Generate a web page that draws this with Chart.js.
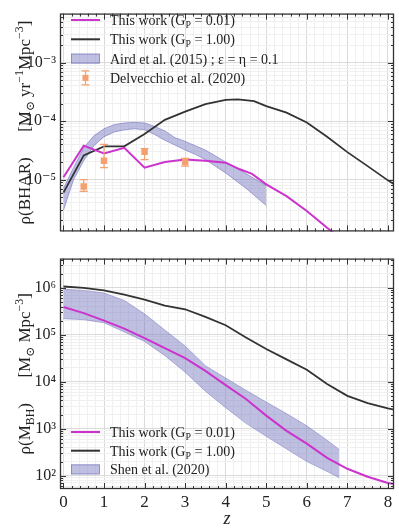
<!DOCTYPE html>
<html>
<head>
<meta charset="utf-8">
<script src="https://cdn.jsdelivr.net/npm/chart.js@4.4.1/dist/chart.umd.min.js"></script>
<style>
  body { margin: 0; background: #fff; }
  #top { position: absolute; left: 0; top: 0; }
  #bottom { position: absolute; left: 0; top: 245px; }
</style>
</head>
<body>
<canvas id="top" width="399" height="245"></canvas>
<canvas id="bottom" width="399" height="287"></canvas>
<script>
// ---- top panel: black hole accretion rate density ----
const zBharLow = [0, 0.5, 1, 1.5, 2, 2.5, 3, 3.5, 4, 4.35, 4.65, 5, 5.5, 6, 6.5, 7];
const bharLow = [1.1e-5, 3.8e-5, 2.8e-5, 3.5e-5, 1.6e-5, 2.0e-5, 2.2e-5, 2.1e-5, 1.95e-5, 1.5e-5, 1.25e-5, 8.3e-6, 5.2e-6, 2.9e-6, 1.5e-6, 8e-7];

const zBharHigh = [0, 0.5, 1, 1.5, 2, 2.5, 3, 3.5, 4, 4.3, 4.7, 5, 5.5, 6, 6.5, 7, 7.5, 8, 8.2];
const bharHigh = [6e-6, 2.6e-5, 3.7e-5, 3.7e-5, 6e-5, 1.05e-4, 1.45e-4, 1.95e-4, 2.3e-4, 2.35e-4, 2.2e-4, 1.8e-4, 1.4e-4, 9.5e-5, 5.4e-5, 2.95e-5, 1.7e-5, 9.7e-6, 7.9e-6];

const zAird = [0, 0.25, 0.5, 0.75, 1, 1.25, 1.5, 1.75, 2, 2.25, 2.5, 2.75, 3, 3.25, 3.5, 4, 4.5, 5];
const airdHi = [7.1e-6, 1.6e-5, 3.5e-5, 5.6e-5, 7.4e-5, 8.7e-5, 9.3e-5, 9.5e-5, 9.3e-5, 8.1e-5, 6.8e-5, 5.2e-5, 4.5e-5, 3.8e-5, 3.2e-5, 2.0e-5, 1.26e-5, 7.9e-6];
const airdLo = [3.0e-6, 1.0e-5, 2.1e-5, 3.8e-5, 5.4e-5, 6.5e-5, 7.1e-5, 7.4e-5, 7.1e-5, 5.9e-5, 4.7e-5, 3.9e-5, 3.2e-5, 2.7e-5, 2.2e-5, 1.3e-5, 7.1e-6, 3.6e-6];

const zDel = [0.5, 1, 2, 3];
const delVal = [7.6e-6, 2.1e-5, 3.0e-5, 2.0e-5];
const delHi = [1.0e-5, 4.0e-5, 3.4e-5, 2.3e-5];
const delLo = [6.3e-6, 1.6e-5, 2.2e-5, 1.7e-5];

// ---- bottom panel: black hole mass density ----
const zMbh = [0, 0.5, 1, 1.5, 2, 2.5, 3, 3.5, 4, 4.5, 5, 5.5, 6, 6.5, 7, 7.5, 8, 8.2];
const mbhLow = [3.9e5, 2.9e5, 2.0e5, 1.35e5, 8.5e4, 5.2e4, 3.2e4, 1.7e4, 8.5e3, 4.3e3, 1.9e3, 900, 480, 240, 140, 95, 70, 65];
const mbhHigh = [1.07e6, 1.0e6, 8.8e5, 7.2e5, 5.6e5, 4.2e5, 3.5e5, 2.4e5, 1.6e5, 8.8e4, 5.0e4, 3.0e4, 1.8e4, 9.0e3, 5.0e3, 3.5e3, 2.7e3, 2.5e3];

const zShen = [0, 0.5, 1, 1.5, 2, 2.5, 3, 3.5, 4, 4.5, 5, 5.5, 6, 6.5, 6.8];
const shenHi = [9.4e5, 8.8e5, 7.8e5, 5.4e5, 2.8e5, 1.26e5, 5.8e4, 2.2e4, 1.2e4, 6.6e3, 3.7e3, 2.1e3, 1.15e3, 570, 360];
const shenLo = [2.2e5, 2.1e5, 1.8e5, 1.15e5, 7.2e4, 3.6e4, 1.6e4, 6.3e3, 2.8e3, 1.3e3, 690, 370, 200, 123, 90];

const SERIF = '"Liberation Serif", "DejaVu Serif", serif';
const magenta = '#cc33cc';
const dark = '#333333';
const orange = '#f5a070';
const bandFill = 'rgba(112,112,190,0.45)';
const bandEdge = 'rgba(112,112,190,0.75)';
const X_MIN = -0.085, X_MAX = 8.15;

const supChars = { '-': '\u207B', '0': '\u2070', '1': '\u00B9', '2': '\u00B2', '3': '\u00B3', '4': '\u2074', '5': '\u2075', '6': '\u2076', '7': '\u2077', '8': '\u2078', '9': '\u2079' };
function supStr(n) { return String(n).split('').map(c => supChars[c]).join(''); }

function pts(xs, ys) { return xs.map((x, i) => ({ x: x, y: ys[i] })); }

function lineSet(xs, ys, color, width) {
  return { data: pts(xs, ys), borderColor: color, backgroundColor: color, borderWidth: width, pointRadius: 0, tension: 0, fill: false };
}

function xTickList() {
  const t = [];
  for (let i = 0; i <= 41; i++) {
    const v = Math.round(i * 2) / 10;
    if (v <= X_MAX) t.push({ value: v, major: Number.isInteger(v) });
  }
  return t;
}

function logTickList(min, max) {
  const t = [];
  for (let e = Math.floor(Math.log10(min)); e <= Math.ceil(Math.log10(max)); e++) {
    for (let k = 1; k <= 9; k++) {
      const v = k * Math.pow(10, e);
      if (v >= min && v <= max) t.push({ value: v, major: k === 1 });
    }
  }
  return t;
}

function gridColor(c) { return c.tick && c.tick.major ? '#dadada' : '#f0f0f0'; }

function makeScales(yMin, yMax, showX) {
  return {
    x: {
      type: 'linear', min: X_MIN, max: X_MAX,
      afterBuildTicks: s => { s.ticks = xTickList(); },
      afterFit: s => { s.height = showX ? 43 : 0; },
      border: { display: false },
      grid: { color: gridColor, drawTicks: false },
      ticks: {
        display: showX, autoSkip: false, maxRotation: 0, padding: 3, color: '#222',
        font: { family: SERIF, size: 17 },
        callback: v => Math.abs(v - Math.round(v)) < 1e-6 ? String(Math.round(v)) : ''
      },
      title: { display: showX, text: 'z', color: '#222', font: { family: SERIF, size: 18, style: 'italic' }, padding: { top: 0, bottom: 2 } }
    },
    y: {
      type: 'logarithmic', min: yMin, max: yMax,
      afterBuildTicks: s => { s.ticks = logTickList(yMin, yMax); },
      afterFit: s => { s.width = 60; },
      border: { display: false },
      grid: { color: gridColor, drawTicks: false },
      ticks: {
        autoSkip: false, padding: 4, color: '#222', font: { family: SERIF, size: 16 },
        callback: (v, i, t) => t[i] && t[i].major ? '10' + supStr(Math.round(Math.log10(v))) : ''
      }
    }
  };
}

// text with sub/superscripts, segs = [[text, 'sub'|'sup'|undefined], ...]
function richWidth(ctx, segs, size) {
  let w = 0;
  segs.forEach(s => {
    ctx.font = (s[1] ? size * 0.7 : size) + 'px ' + SERIF;
    w += ctx.measureText(s[0]).width;
  });
  return w;
}
function drawRich(ctx, segs, x, y, size) {
  segs.forEach(s => {
    const fs = s[1] ? size * 0.7 : size;
    ctx.font = fs + 'px ' + SERIF;
    const dy = s[1] === 'sub' ? size * 0.22 : s[1] === 'sup' ? -size * 0.4 : 0;
    ctx.fillText(s[0], x, y + dy);
    x += ctx.measureText(s[0]).width;
  });
}

// frame, inward ticks, y title and legend
const panelPlugin = {
  id: 'panel',
  afterDraw(chart, args, opts) {
    const ctx = chart.ctx, a = chart.chartArea, sx = chart.scales.x, sy = chart.scales.y;
    ctx.save();
    ctx.strokeStyle = '#333';
    ctx.lineWidth = 1;
    ctx.beginPath();
    sx.ticks.forEach(t => {
      const px = Math.round(sx.getPixelForValue(t.value)) + 0.5;
      const len = t.major ? 6 : 3;
      ctx.moveTo(px, a.bottom); ctx.lineTo(px, a.bottom - len);
      ctx.moveTo(px, a.top); ctx.lineTo(px, a.top + len);
    });
    sy.ticks.forEach(t => {
      const py = Math.round(sy.getPixelForValue(t.value)) + 0.5;
      const len = t.major ? 6 : 3;
      ctx.moveTo(a.left, py); ctx.lineTo(a.left + len, py);
      ctx.moveTo(a.right, py); ctx.lineTo(a.right - len, py);
    });
    ctx.stroke();
    ctx.lineWidth = 1.3;
    ctx.strokeRect(a.left + 0.5, a.top + 0.5, a.right - a.left - 1, a.bottom - a.top - 1);

    // y title
    ctx.fillStyle = '#222';
    ctx.textBaseline = 'alphabetic';
    const tw = richWidth(ctx, opts.title, 17);
    ctx.save();
    ctx.translate(30, (a.top + a.bottom) / 2);
    ctx.rotate(-Math.PI / 2);
    drawRich(ctx, opts.title, -tw / 2, 0, 17);
    ctx.restore();

    // legend
    opts.legend.forEach((row, i) => {
      const cy = opts.legendY + i * opts.legendDy;
      const x0 = 71, x1 = 100;
      if (row.kind === 'line') {
        ctx.strokeStyle = row.color; ctx.lineWidth = 2;
        ctx.beginPath(); ctx.moveTo(x0, cy); ctx.lineTo(x1, cy); ctx.stroke();
      } else if (row.kind === 'band') {
        ctx.fillStyle = bandFill; ctx.fillRect(x0, cy - 5, x1 - x0, 10);
        ctx.strokeStyle = bandEdge; ctx.lineWidth = 0.8; ctx.strokeRect(x0 + 0.5, cy - 4.5, x1 - x0 - 1, 9);
      } else if (row.kind === 'err') {
        const mx = (x0 + x1) / 2;
        ctx.strokeStyle = orange; ctx.lineWidth = 1.2;
        ctx.beginPath();
        ctx.moveTo(mx, cy - 7); ctx.lineTo(mx, cy + 7);
        ctx.moveTo(mx - 4, cy - 7); ctx.lineTo(mx + 4, cy - 7);
        ctx.moveTo(mx - 4, cy + 7); ctx.lineTo(mx + 4, cy + 7);
        ctx.stroke();
        ctx.fillStyle = orange; ctx.fillRect(mx - 3, cy - 3, 6, 6);
      }
      ctx.fillStyle = '#222';
      drawRich(ctx, row.label, 110, cy + 5, 14);
    });
    ctx.restore();
  }
};

const errPlugin = {
  id: 'errbars',
  afterDatasetsDraw(chart) {
    const ctx = chart.ctx, sx = chart.scales.x, sy = chart.scales.y;
    ctx.save();
    ctx.strokeStyle = orange;
    ctx.lineWidth = 1.2;
    zDel.forEach((z, i) => {
      const px = sx.getPixelForValue(z);
      const p1 = sy.getPixelForValue(delHi[i]), p2 = sy.getPixelForValue(delLo[i]);
      ctx.beginPath();
      ctx.moveTo(px, p1); ctx.lineTo(px, p2);
      ctx.moveTo(px - 4, p1); ctx.lineTo(px + 4, p1);
      ctx.moveTo(px - 4, p2); ctx.lineTo(px + 4, p2);
      ctx.stroke();
    });
    ctx.restore();
  }
};

const workLow = [['This work (G'], ['P', 'sub'], [' = 0.01)']];
const workHigh = [['This work (G'], ['P', 'sub'], [' = 1.00)']];

new Chart(document.getElementById('top'), {
  type: 'line',
  data: {
    datasets: [
      { data: pts(zDel, delVal), showLine: false, pointStyle: 'rect', pointRadius: 4.6, backgroundColor: orange, borderColor: orange, borderWidth: 0 },
      lineSet(zBharLow, bharLow, magenta, 2),
      lineSet(zBharHigh, bharHigh, dark, 1.8),
      { data: pts(zAird, airdLo), borderColor: bandEdge, borderWidth: 0.8, pointRadius: 0, tension: 0, fill: false },
      { data: pts(zAird, airdHi), borderColor: bandEdge, borderWidth: 0.8, pointRadius: 0, tension: 0, fill: '-1', backgroundColor: bandFill }
    ]
  },
  options: {
    responsive: false,
    animation: false,
    devicePixelRatio: 1,
    layout: { padding: { top: 3, right: 5, bottom: 3, left: 0 } },
    scales: makeScales(1.3e-6, 6.9e-3, false),
    plugins: {
      legend: { display: false },
      tooltip: { enabled: false },
      panel: {
        title: [['\u03C1(BHAR)'], ['      '], ['[M'], ['\u2299', 'sub'], [' yr'], ['\u22121', 'sup'], ['Mpc'], ['\u22123', 'sup'], [']']],
        legendY: 20, legendDy: 19.3,
        legend: [
          { kind: 'line', color: magenta, label: workLow },
          { kind: 'line', color: dark, label: workHigh },
          { kind: 'band', label: [['Aird et al. (2015) ; \u03B5 = \u03B7 = 0.1']] },
          { kind: 'err', label: [['Delvecchio et al. (2020)']] }
        ]
      }
    }
  },
  plugins: [errPlugin, panelPlugin]
});

new Chart(document.getElementById('bottom'), {
  type: 'line',
  data: {
    datasets: [
      lineSet(zMbh, mbhLow, magenta, 2),
      lineSet(zMbh, mbhHigh, dark, 1.8),
      { data: pts(zShen, shenLo), borderColor: bandEdge, borderWidth: 0.6, pointRadius: 0, tension: 0, fill: false },
      { data: pts(zShen, shenHi), borderColor: bandEdge, borderWidth: 0.6, pointRadius: 0, tension: 0, fill: '-1', backgroundColor: bandFill }
    ]
  },
  options: {
    responsive: false,
    animation: false,
    devicePixelRatio: 1,
    layout: { padding: { top: 2, right: 5, bottom: 0, left: 0 } },
    scales: makeScales(52, 4.2e6, true),
    plugins: {
      legend: { display: false },
      tooltip: { enabled: false },
      panel: {
        title: [['\u03C1(M'], ['BH', 'sub'], [')'], ['      '], ['[M'], ['\u2299', 'sub'], [' Mpc'], ['\u22123', 'sup'], [']']],
        legendY: 187, legendDy: 18.7,
        legend: [
          { kind: 'line', color: magenta, label: workLow },
          { kind: 'line', color: dark, label: workHigh },
          { kind: 'band', label: [['Shen et al. (2020)']] }
        ]
      }
    }
  },
  plugins: [panelPlugin]
});
</script>
</body>
</html>
